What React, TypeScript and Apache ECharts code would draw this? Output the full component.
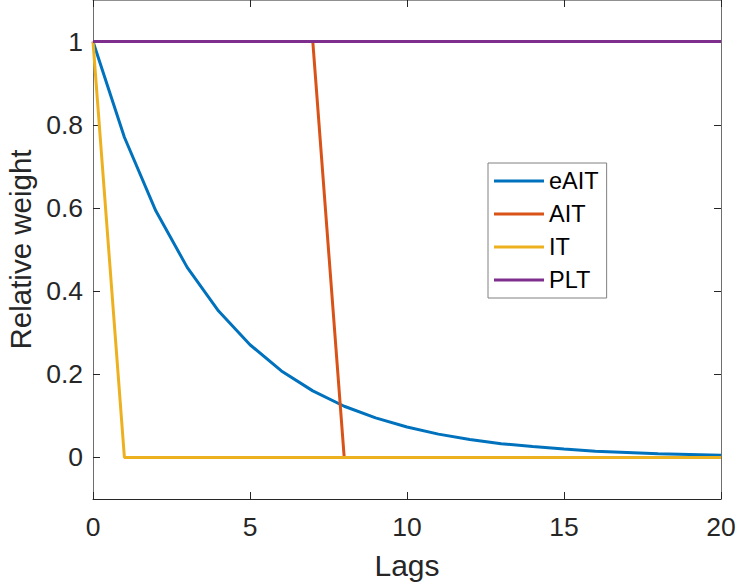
import React, { useEffect, useRef } from "react";
import * as echarts from "echarts";

const lags = [0, 1, 2, 3, 4, 5, 6, 7, 8, 9, 10, 11, 12, 13, 14, 15, 16, 17, 18, 19, 20];
const eAIT = [1, 0.77, 0.593, 0.457, 0.352, 0.271, 0.208, 0.16, 0.123, 0.095, 0.073, 0.056, 0.043, 0.033, 0.026, 0.02, 0.015, 0.012, 0.009, 0.007, 0.005];
const AIT = [1, 1, 1, 1, 1, 1, 1, 1, 0, 0, 0, 0, 0, 0, 0, 0, 0, 0, 0, 0, 0];
const IT = [1, 0, 0, 0, 0, 0, 0, 0, 0, 0, 0, 0, 0, 0, 0, 0, 0, 0, 0, 0, 0];
const PLT = [1, 1, 1, 1, 1, 1, 1, 1, 1, 1, 1, 1, 1, 1, 1, 1, 1, 1, 1, 1, 1];
const yTicks = [0, 0.2, 0.4, 0.6, 0.8, 1];
const seriesNames = ["eAIT", "AIT", "IT", "PLT"];
const seriesData = [eAIT, AIT, IT, PLT];
const colors = ["#0072BD", "#D95319", "#EDB120", "#7E2F8E"];

const FONT = "'Liberation Sans', Arial, Helvetica, sans-serif";
const TXT = "#262626";

export default function App() {
  const ref = useRef<HTMLDivElement>(null);
  useEffect(() => {
    document.body.style.margin = "0";
    const chart = echarts.init(ref.current!, null, { renderer: "svg" });
    const tickStyle = { show: true, inside: true, length: 7, lineStyle: { color: TXT, width: 1 } };
    chart.setOption({
      animation: false,
      backgroundColor: "#ffffff",
      textStyle: { fontFamily: FONT },
      grid: { left: 93, right: 16, top: 0, bottom: 89, containLabel: false, outerBoundsMode: "none" },
      legend: {
        data: seriesNames,
        orient: "vertical",
        left: 488,
        top: 163,
        icon: "rect",
        itemWidth: 50,
        itemHeight: 3,
        itemGap: 9,
        padding: [6, 8, 6, 6],
        borderColor: "#808080",
        borderWidth: 1,
        backgroundColor: "#ffffff",
        textStyle: { fontFamily: FONT, fontSize: 23.5, color: "#000000", lineHeight: 23, padding: [0, 0, 0, 0] },
        itemStyle: { borderWidth: 0 },
      },
      xAxis: [
        {
          type: "value",
          min: 0,
          max: 20,
          interval: 5,
          name: "Lags",
          nameLocation: "middle",
          nameGap: 51,
          nameTextStyle: { fontFamily: FONT, fontSize: 30, color: TXT },
          axisLine: { show: true, onZero: false, lineStyle: { color: TXT, width: 1 } },
          axisTick: tickStyle,
          axisLabel: { fontFamily: FONT, fontSize: 26.5, color: TXT, margin: 14 },
          splitLine: { show: false },
        },
        {
          type: "value",
          position: "top",
          min: 0,
          max: 20,
          interval: 5,
          axisLine: { show: true, onZero: false, lineStyle: { color: "#909090", width: 1 } },
          axisTick: tickStyle,
          axisLabel: { show: false },
          splitLine: { show: false },
        },
      ],
      yAxis: [
        {
          type: "value",
          min: -0.1,
          max: 1.1,
          name: "Relative weight",
          nameLocation: "middle",
          nameGap: 55,
          nameTextStyle: { fontFamily: FONT, fontSize: 29.5, color: TXT },
          axisLine: { show: true, onZero: false, lineStyle: { color: "#6e6e6e", width: 1 } },
          axisTick: { ...tickStyle, customValues: yTicks },
          axisLabel: { fontFamily: FONT, fontSize: 26.5, color: TXT, margin: 10, customValues: yTicks, formatter: (v: number) => String(v) },
          splitLine: { show: false },
        },
        {
          type: "value",
          position: "right",
          min: -0.1,
          max: 1.1,
          axisLine: { show: true, onZero: false, lineStyle: { color: "#6e6e6e", width: 1 } },
          axisTick: { ...tickStyle, customValues: yTicks },
          axisLabel: { show: false, customValues: yTicks },
          splitLine: { show: false },
        },
      ],
      series: seriesNames.map((name, i) => ({
        name,
        type: "line",
        xAxisIndex: 0,
        yAxisIndex: 0,
        data: lags.map((x, j) => [x, seriesData[i][j]]),
        showSymbol: false,
        symbol: "none",
        color: colors[i],
        lineStyle: { color: colors[i], width: 3 },
        itemStyle: { color: colors[i] },
        z: 2 + i,
      })),
    });
    return () => chart.dispose();
  }, []);
  return <div ref={ref} style={{ width: 737, height: 588 }} />;
}
